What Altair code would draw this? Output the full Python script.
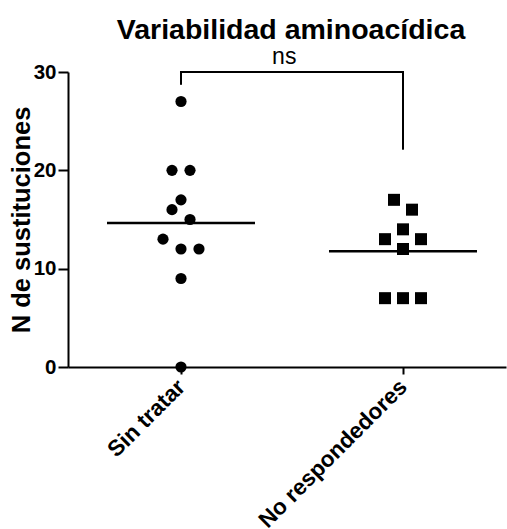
import json
import altair as alt
import pandas as pd

# ---- data ----
categories = ["Sin tratar", "No respondedores"]
sin_tratar = [27, 20, 20, 17, 16, 15, 13, 12, 12, 9, 0]
sin_tratar_slot = [0, -1, 1, 0, -1, 1, -2, 0, 2, 0, 0]
no_resp = [17, 16, 14, 13, 13, 12, 7, 7, 7]
no_resp_slot = [-1, 1, 0, -2, 2, 0, -2, 0, 2]

# significance bracket (data units)
bracket_x = [0, 0, 1]
bracket_x2 = [0, 1, 1]
bracket_y = [28.8, 30, 30]
bracket_y2 = [30, 30, 22.2]
sig_label = "ns"

title = "Variabilidad aminoacídica"
y_title = "N de sustituciones"
y_ticks = [0, 10, 20, 30]

FONT = "Liberation Sans"
SLOT = 9 / 222  # horizontal spacing of a dot-plot column, in x units

rows = []
for v, s in zip(sin_tratar, sin_tratar_slot):
    rows.append({"grupo": 0, "valor": v, "slot": s, "forma": categories[0]})
for v, s in zip(no_resp, no_resp_slot):
    rows.append({"grupo": 1, "valor": v, "slot": s, "forma": categories[1]})
df = pd.DataFrame(rows)

xscale = alt.Scale(domain=[-0.509, 1.464], nice=False, zero=False)
yscale = alt.Scale(domain=[0, 30], nice=False, zero=True)

label_expr = f"{json.dumps(categories)}[datum.value]"

xaxis = alt.Axis(
    values=[0, 1], labelExpr=label_expr, title=None, grid=False,
    domainColor="black", domainWidth=2, tickColor="black", tickWidth=2, tickSize=7,
    labelAngle=-45, labelAlign="right", labelBaseline="middle",
    labelFont=FONT, labelFontSize=22.5, labelFontWeight="bold", labelColor="black",
    labelPadding=9, labelOverlap=False, labelFlush=False, labelLimit=500,
)
yaxis = alt.Axis(
    values=y_ticks, title=y_title, grid=False,
    domainColor="black", domainWidth=2, tickColor="black", tickWidth=2, tickSize=10,
    labelFont=FONT, labelFontSize=20.5, labelFontWeight="bold", labelColor="black",
    labelPadding=2, titleFont=FONT, titleFontSize=25.5, titleFontWeight="bold",
    titleColor="black", titleBaseline="alphabetic", titlePadding=4,
)

base = alt.Chart(df)

points = base.transform_calculate(
    xpos=f"datum.grupo + datum.slot * {SLOT}"
).mark_point(filled=True, opacity=1, clip=False).encode(
    x=alt.X("xpos:Q", scale=xscale, axis=xaxis),
    y=alt.Y("valor:Q", scale=yscale, axis=yaxis),
    shape=alt.Shape("forma:N", scale=alt.Scale(domain=categories, range=["circle", "square"]), legend=None),
    size=alt.Size("forma:N", scale=alt.Scale(domain=categories, range=[125, 144]), legend=None),
    color=alt.value("black"),
)

means = base.transform_aggregate(
    media="mean(valor)", groupby=["grupo"]
).transform_calculate(
    x1="datum.grupo - 1/3", x2="datum.grupo + 1/3"
).mark_rule(color="black", strokeWidth=2.5).encode(
    x=alt.X("x1:Q", scale=xscale), x2="x2:Q", y=alt.Y("media:Q", scale=yscale)
)

bdf = pd.DataFrame({"x": bracket_x, "x2": bracket_x2, "y": bracket_y, "y2": bracket_y2})
bracket = alt.Chart(bdf).mark_rule(color="black", strokeWidth=2, strokeCap="square").encode(
    x=alt.X("x:Q", scale=xscale), x2="x2:Q", y=alt.Y("y:Q", scale=yscale), y2="y2:Q"
)

tdf = pd.DataFrame({"x": [0.465], "y": [30], "t": [sig_label]})
ns = alt.Chart(tdf).mark_text(
    font=FONT, fontSize=23, color="black", baseline="bottom", align="center", dy=-3
).encode(x=alt.X("x:Q", scale=xscale), y=alt.Y("y:Q", scale=yscale), text="t:N")

chart = alt.layer(means, bracket, points, ns).properties(
    width=438, height=295,
    title=alt.TitleParams(title, font=FONT, fontSize=28.5, fontWeight="bold", color="black",
                          anchor="middle", frame="group", offset=2, dx=4),
    autosize=alt.AutoSizeParams(type="none"),
    padding={"left": 68, "top": 72, "right": 1, "bottom": 162},
    background="white",
).configure_view(stroke=None)

chart.save("out.html", embed_options={"renderer": "svg", "actions": False})
